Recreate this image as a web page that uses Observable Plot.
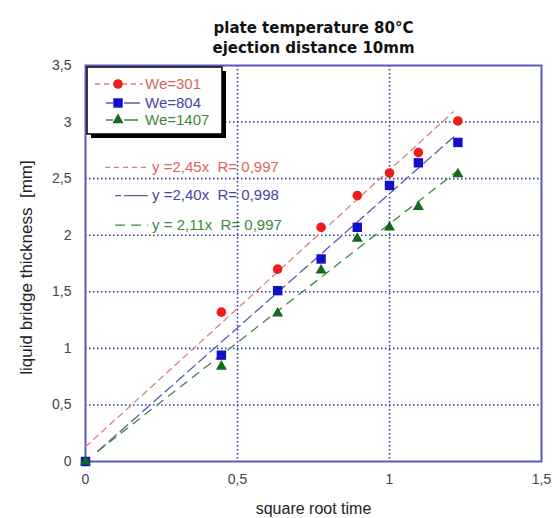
<!DOCTYPE html>
<html><head><meta charset="utf-8">
<script src="https://cdn.jsdelivr.net/npm/d3@7"></script>
<script src="https://cdn.jsdelivr.net/npm/@observablehq/plot@0.6"></script>
<style>body{margin:0;background:#fff} #chart{width:560px;height:518px}</style>
</head><body><div id="chart"></div>
<script>
const titleLines = ["plate temperature 80°C", "ejection distance 10mm"];
const xLabel = "square root time";
const yLabel = "liquid bridge thickness\u00a0\u00a0[mm]";
const xTicks = [0, 0.5, 1, 1.5];
const yTicks = [0, 0.5, 1, 1.5, 2, 2.5, 3, 3.5];
const sqrtTime = [0, 0.447, 0.632, 0.775, 0.894, 1.0, 1.095, 1.225];
const we301 = [0, 1.32, 1.70, 2.07, 2.35, 2.55, 2.73, 3.01];
const we804 = [0, 0.94, 1.51, 1.79, 2.07, 2.44, 2.64, 2.82];
const we1407 = [0, 0.84, 1.31, 1.69, 1.97, 2.07, 2.25, 2.54];
const seriesNames = ["We=301", "We=804", "We=1407"];
const fitX = [[0, 1.21], [0.04, 1.22], [0.04, 1.22]];
const fitY = [[0.13, 3.09], [0.09, 2.89], [0.09, 2.56]];
const fitLabels = ["y =2,45x  R= 0,997", "y =2,40x  R= 0,998", "y = 2,11x  R= 0,997"];
const fitLabelY = [2.60, 2.35, 2.09];

const pointColors = ["#ee1c1c", "#1010c8", "#126a1c"];
const lineColors = ["#d98080", "#5a5ab0", "#3b8a3b"];
const textColors = ["#dc6464", "#4646a6", "#3c8a3c"];
const symbols = ["circle", "square", "triangle"];
const radii = [4.8, 5.3, 4.1];
const dashes = ["6,5", "10,5", "8,7"];
const sampleDashes = ["5,4", "6,3,20,0", "10,6"];

const fmt = d => String(d).replace(".", ",");
const seriesValues = [we301, we804, we1407];

const marks = [
  Plot.ruleX(xTicks.filter(d => d > 0 && d < 1.5), {stroke: "#3535aa", strokeWidth: 1.6, strokeDasharray: "1.5,2.5"}),
  Plot.ruleY(yTicks.filter(d => d > 0 && d < 3.5), {stroke: "#3535aa", strokeWidth: 1.6, strokeDasharray: "1.5,2.5"}),
  Plot.frame({stroke: "#5a5abb", strokeWidth: 2}),
  Plot.axisX({ticks: xTicks, tickFormat: fmt, tickSize: 0, tickPadding: 13, label: null, fontSize: 14, fill: "#444"}),
  Plot.axisY({ticks: yTicks, tickFormat: fmt, tickSize: 0, tickPadding: 14, label: null, fontSize: 14, fill: "#444"})
];

seriesNames.forEach((s, i) => {
  const fit = fitX[i].map((x, j) => ({x, y: fitY[i][j]}));
  marks.push(Plot.line(fit, {x: "x", y: "y", stroke: lineColors[i], strokeWidth: 1.3, strokeDasharray: dashes[i]}));
});
seriesNames.forEach((s, i) => {
  const pts = sqrtTime.map((x, j) => ({x, y: seriesValues[i][j]}));
  marks.push(Plot.dot(pts, {x: "x", y: "y", symbol: symbols[i], r: radii[i], fill: pointColors[i], stroke: "none"}));
});
seriesNames.forEach((s, i) => {
  marks.push(Plot.ruleY([fitLabelY[i]], {x1: i === 0 ? 0.066 : 0.099, x2: 0.207, stroke: lineColors[i], strokeWidth: 1.3, strokeDasharray: sampleDashes[i]}));
  marks.push(Plot.text([fitLabels[i]], {x: 0.219, y: fitLabelY[i], text: d => d, textAnchor: "start", fill: textColors[i], fontSize: 15, fontFamily: "Liberation Sans, Arial, sans-serif"}));
});
marks.push(
  Plot.text([titleLines[0]], {frameAnchor: "top", dy: -43, text: d => d, fontWeight: "bold", fontSize: 15, fontFamily: "DejaVu Sans, sans-serif", fill: "#111"}),
  Plot.text([titleLines[1]], {frameAnchor: "top", dy: -23, text: d => d, fontWeight: "bold", fontSize: 15, fontFamily: "DejaVu Sans, sans-serif", fill: "#111"}),
  Plot.text([xLabel], {frameAnchor: "bottom", dy: 52, text: d => d, fontSize: 16, fill: "#222"}),
  Plot.text([yLabel], {frameAnchor: "left", dx: -59, dy: 4, textAnchor: "middle", rotate: -90, text: d => d, fontSize: 17, fill: "#222"})
);

const svg = Plot.plot({
  width: 560, height: 518,
  marginLeft: 85, marginRight: 19, marginTop: 65, marginBottom: 57,
  x: {domain: [0, 1.5]}, y: {domain: [0, 3.5]},
  style: {fontFamily: "Liberation Sans, Arial, sans-serif", fontSize: "14px", background: "white", overflow: "visible"},
  marks
});

// legend
const g = d3.select(svg).append("g").attr("text-anchor", "start");
g.append("rect").attr("x", 91).attr("y", 71).attr("width", 135).attr("height", 67).attr("fill", "#000");
g.append("rect").attr("x", 87).attr("y", 67).attr("width", 135).attr("height", 67).attr("fill", "#fff").attr("stroke", "#000").attr("stroke-width", 1.5);
const rowsY = [84, 103, 120];
const sym = [d3.symbolCircle, d3.symbolSquare, d3.symbolTriangle];
seriesNames.forEach((s, i) => {
  const y = rowsY[i];
  if (i === 0) {
    g.append("line").attr("x1", 95).attr("x2", 143).attr("y1", y).attr("y2", y).attr("stroke", lineColors[0]).attr("stroke-width", 1.3).attr("stroke-dasharray", "5,4");
  } else {
    g.append("line").attr("x1", 106).attr("x2", 113).attr("y1", y).attr("y2", y).attr("stroke", lineColors[i]).attr("stroke-width", 1.5);
    g.append("line").attr("x1", 124).attr("x2", i === 1 ? 140 : 138).attr("y1", y).attr("y2", y).attr("stroke", lineColors[i]).attr("stroke-width", 1.5);
  }
  g.append("path").attr("d", d3.symbol(sym[i], Math.PI * radii[i] * radii[i])()).attr("transform", `translate(118,${y})`).attr("fill", pointColors[i]);
  g.append("text").attr("x", 145).attr("y", y).attr("dy", "0.36em").attr("text-anchor", "start").attr("fill", textColors[i]).attr("font-size", 15).text(s);
});

document.getElementById("chart").appendChild(svg);
</script></body></html>
